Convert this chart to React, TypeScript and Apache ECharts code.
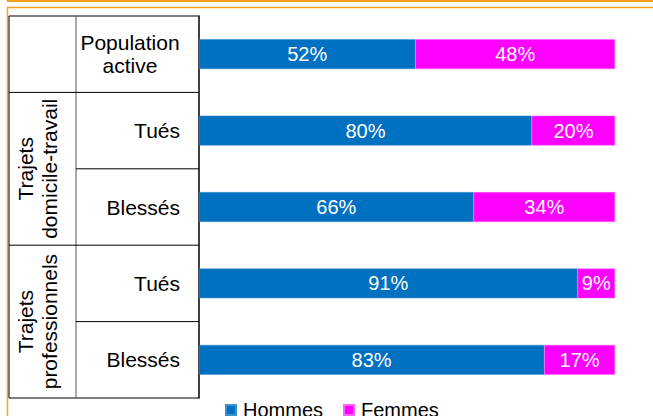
import React, { useEffect, useRef } from "react";
import * as echarts from "echarts";

const categories = ["Population\nactive", "Tués", "Blessés", "Tués", "Blessés"];
const hommes = [52, 80, 66, 91, 83];
const femmes = [48, 20, 34, 9, 17];
const groupLabels = ["Trajets\ndomicile-travail", "Trajets\nprofessionnels"];
const seriesNames = ["Hommes", "Femmes"];

const BLUE = "#0070C0";
const MAGENTA = "#FF00FF";
const ORANGE = "#F5A01E";
const FONT = "Liberation Sans, Arial, sans-serif";

export default function App() {
  const ref = useRef<HTMLDivElement>(null);
  useEffect(() => {
    if (!ref.current) return;
    const chart = echarts.init(ref.current, null, { renderer: "svg" });
    const gridLeft = 199, gridTop = 16, gridBottomY = 398;
    const band = (gridBottomY - gridTop) / categories.length;
    const tableLeft = 9, colX = 76;
    const line = (x1: number, y1: number, x2: number, y2: number, color = "#000", w = 1) => ({
      type: "line",
      shape: { x1, y1, x2, y2 },
      style: { stroke: color, lineWidth: w },
      silent: true,
    });
    const graphics: any[] = [
      line(7, 1, 653, 1, ORANGE, 2),
      { type: "rect", shape: { x: 7.5, y: 7.5, width: 800, height: 600 }, style: { fill: "none", stroke: ORANGE, lineWidth: 1.5 }, silent: true },
      line(tableLeft, gridTop, gridLeft, gridTop),
      line(tableLeft, gridBottomY, gridLeft, gridBottomY),
      line(tableLeft, gridTop, tableLeft, gridBottomY),
      line(colX, gridTop, colX, gridBottomY, "#555", 1),
      line(tableLeft, gridTop + band, gridLeft, gridTop + band),
      line(colX, gridTop + band * 2, gridLeft, gridTop + band * 2),
      line(tableLeft, gridTop + band * 3, gridLeft, gridTop + band * 3),
      line(colX, gridTop + band * 4, gridLeft, gridTop + band * 4),
    ];
    groupLabels.forEach((g, i) => {
      graphics.push({
        type: "text",
        x: 37,
        y: gridTop + band * (1 + 2 * i + 1),
        rotation: Math.PI / 2,
        style: {
          text: g,
          align: "center",
          verticalAlign: "middle",
          fontSize: 21,
          fontFamily: FONT,
          lineHeight: 24,
          fill: "#000",
        },
        silent: true,
      });
    });

    const label = {
      show: true,
      position: "inside",
      color: "#fff",
      fontSize: 20,
      fontFamily: FONT,
      formatter: (p: any) => `${p.value}%`,
    };

    chart.setOption({
      animation: false,
      grid: { left: gridLeft, right: 38, top: gridTop, bottom: 416 - gridBottomY },
      xAxis: { type: "value", min: 0, max: 100, show: false },
      yAxis: {
        type: "category",
        inverse: true,
        data: categories,
        axisLine: { lineStyle: { color: "#000", width: 1.5 } },
        axisTick: { show: false },
        axisLabel: {
          margin: 19,
          color: "#000",
          fontSize: 21,
          fontFamily: FONT,
          formatter: (v: string) =>
            v.indexOf("\n") >= 0 ? v.split("\n").map((s) => `{c|${s}}`).join("\n") : v,
          rich: {
            c: { width: 100, align: "center", fontSize: 21, fontFamily: FONT, color: "#000", lineHeight: 23 },
          },
        },
      },
      legend: {
        data: seriesNames,
        left: 225,
        top: 400,
        padding: 0,
        itemWidth: 10,
        itemHeight: 10,
        itemGap: 20,
        icon: "rect",
        textStyle: { fontSize: 20, fontFamily: FONT, color: "#000", padding: [0, 0, 0, 2] },
      },
      series: [
        {
          name: seriesNames[0],
          type: "bar",
          stack: "t",
          data: hommes,
          barWidth: "39%",
          itemStyle: { color: BLUE, borderColor: "#3d8fd0", borderWidth: 0.5 },
          label,
        },
        {
          name: seriesNames[1],
          type: "bar",
          stack: "t",
          data: femmes,
          barWidth: "39%",
          itemStyle: { color: MAGENTA, borderColor: "#ff66ff", borderWidth: 0.5 },
          label,
        },
      ],
      graphic: graphics,
    });
    return () => chart.dispose();
  }, []);
  return (
    <div
      ref={ref}
      style={{ position: "fixed", left: 0, top: 0, width: 653, height: 416, background: "#fff" }}
    />
  );
}
